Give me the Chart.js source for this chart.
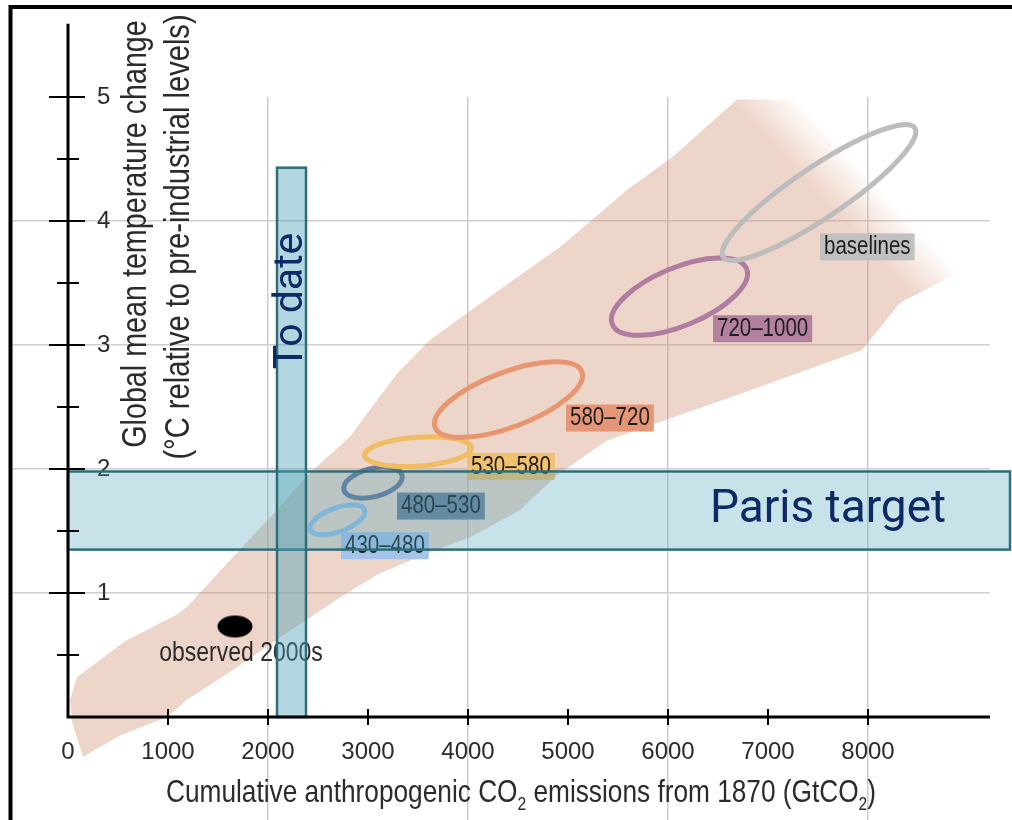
<!DOCTYPE html>
<html>
<head>
<meta charset="utf-8">
<script src="https://cdn.jsdelivr.net/npm/chart.js@4.4.1/dist/chart.umd.min.js"></script>
<style>
  html, body { margin: 0; padding: 0; background: #ffffff; }
  canvas { display: block; }
</style>
</head>
<body>
<canvas id="chart" width="1012" height="820"></canvas>
<script>
// ---------- data ----------
// axis ticks
const xTickValues = [0, 1000, 2000, 3000, 4000, 5000, 6000, 7000, 8000];
const yTickMarks  = [0.5, 1, 1.5, 2, 2.5, 3, 3.5, 4, 4.5, 5];
const yTickValues = [1, 2, 3, 4, 5];
const xGridValues = [2000, 4000, 6000, 8000];
const yGridValues = [1, 2, 3, 4];

// outline of the model plume: upper edge (left to right), then lower edge back
const plumeEmissions = [90, 570, 1100, 1190, 1650, 2090, 2420, 2820, 3020, 3290, 3620, 4270, 4920, 5590, 6050, 6690, 9320,
                        9320, 8950, 8320, 7940, 6670, 5390, 4890, 4520, 4020, 3620, 3120, 2790, 2190, 1650, 1190, 990, 520, 150, 40, 20];
const plumeWarming   = [0.32, 0.61, 0.83, 0.89, 1.29, 1.67, 1.97, 2.26, 2.48, 2.77, 3.04, 3.42, 3.79, 4.25, 4.52, 4.98, 4.98,
                        3.75, 3.60, 3.34, 2.96, 2.59, 2.23, 1.95, 1.67, 1.45, 1.33, 1.16, 1.00, 0.68, 0.38, 0.14, 0.00, -0.15, -0.32, -0.04, 0.14];

// scenario categories (ppm CO2-eq in 2100)
const scenarioNames    = ['430–480', '480–530', '530–580', '580–720', '720–1000', 'baselines'];
const scenarioEmission = [2695, 3050, 3500, 4405, 6115, 7510];        // centre, GtCO2
const scenarioWarming  = [1.59, 1.89, 2.14, 2.56, 3.39, 4.23];        // centre, °C
const scenarioEmissionSpread = [272, 291, 534, 734, 671, 958];        // half range along main axis
const scenarioWarmingSpread  = [0.081, 0.059, 0.030, 0.224, 0.225, 0.521];
const scenarioWidthRatio     = [0.41, 0.47, 0.27, 0.35, 0.40, 0.22];  // minor / major axis

// observed 2000s
const observedEmission = [1670];
const observedWarming  = [0.73];

// highlighted ranges
const parisWarming   = [1.35, 1.98];
const parisEmission  = [0, 9420];
const toDateEmission = [2090, 2380];
const toDateWarming  = [0, 4.43];

// ---------- styles ----------
const SANS = "'Liberation Sans', Arial, sans-serif";
const NARROW_FACTOR = 0.82;
const ROBOTO = "Roboto, 'Open Sans', sans-serif";
const GRID = 'rgb(206,206,206)';
const TEXT = '#2b2b2b';
const scenarioStroke = ['#98c0e8', '#6b7799', '#f0bd62', '#e8966f', '#b07da0', '#bdbdbd'];
const scenarioFill   = ['#a5c3eb', '#6e829c', '#f2c16e', '#e49676', '#b3819f', '#c0c0c0'];
// label boxes: top-left corner in data units
const labelAnchorX = [2730, 3290, 3990, 4980, 6450, 7520];
const labelAnchorY = [1.49, 1.81, 2.13, 2.52, 3.24, 3.90];
// plume fade toward the high-emission end (data units)
const fadeStart = [7635, 4.11];
const fadeEnd   = [7995, 4.38];

// black dot for the observed marker
const dotImage = document.createElement('canvas');
dotImage.width = 36; dotImage.height = 24;
(function () {
  const d = dotImage.getContext('2d');
  d.fillStyle = '#000';
  d.beginPath();
  d.ellipse(18, 12, 17.5, 11, 0, 0, Math.PI * 2);
  d.fill();
})();

function px(chart, x) { return chart.scales.x.getPixelForValue(x); }
function py(chart, y) { return chart.scales.y.getPixelForValue(y); }

// condensed text: regular face squeezed horizontally
function narrowWidth(ctx, text, size) {
  ctx.font = size + 'px ' + SANS;
  return ctx.measureText(text).width * NARROW_FACTOR;
}
function narrowText(ctx, text, x, y, size, align, angle) {
  ctx.save();
  ctx.font = size + 'px ' + SANS;
  ctx.translate(x, y);
  if (angle) ctx.rotate(angle);
  ctx.scale(NARROW_FACTOR, 1);
  ctx.textAlign = align;
  ctx.fillText(text, 0, 0);
  ctx.restore();
}

function drawPlume(chart) {
  const ctx = chart.ctx;
  ctx.save();
  ctx.beginPath();
  plumeEmissions.forEach((v, i) => {
    const X = px(chart, v), Y = py(chart, plumeWarming[i]);
    if (i === 0) ctx.moveTo(X, Y); else ctx.lineTo(X, Y);
  });
  ctx.closePath();
  const g = ctx.createLinearGradient(px(chart, fadeStart[0]), py(chart, fadeStart[1]),
                                     px(chart, fadeEnd[0]), py(chart, fadeEnd[1]));
  g.addColorStop(0, 'rgba(214,150,120,0.40)');
  g.addColorStop(1, 'rgba(214,150,120,0)');
  ctx.fillStyle = g;
  ctx.fill();
  ctx.restore();
}

function drawScenarios(chart) {
  const ctx = chart.ctx;
  ctx.save();
  scenarioNames.forEach((name, i) => {
    const cx = px(chart, scenarioEmission[i]), cy = py(chart, scenarioWarming[i]);
    const ex = px(chart, scenarioEmission[i] + scenarioEmissionSpread[i]) - cx;
    const ey = py(chart, scenarioWarming[i] + scenarioWarmingSpread[i]) - cy;
    const a = Math.hypot(ex, ey);
    const b = a * scenarioWidthRatio[i];
    ctx.beginPath();
    ctx.ellipse(cx, cy, a, b, Math.atan2(ey, ex), 0, Math.PI * 2);
    ctx.strokeStyle = scenarioStroke[i];
    ctx.lineWidth = 5;
    ctx.stroke();
  });
  ctx.textBaseline = 'middle';
  scenarioNames.forEach((name, i) => {
    const X = px(chart, labelAnchorX[i]), Y = py(chart, labelAnchorY[i]);
    const w = narrowWidth(ctx, name, 25) + 8;
    ctx.fillStyle = scenarioFill[i];
    ctx.fillRect(X, Y, w, 27);
    ctx.fillStyle = '#1e1e1e';
    narrowText(ctx, name, X + 4, Y + 14, 25, 'left');
  });
  // observed label
  ctx.textBaseline = 'alphabetic';
  ctx.fillStyle = TEXT;
  narrowText(ctx, 'observed 2000s', px(chart, observedEmission[0]) + 6, py(chart, observedWarming[0]) + 35, 28, 'center');
  ctx.restore();
}

function drawRanges(chart) {
  const ctx = chart.ctx;
  ctx.save();
  const rect = (x0, x1, y0, y1, fill) => {
    const X0 = px(chart, x0), X1 = px(chart, x1), Y0 = py(chart, y1), Y1 = py(chart, y0);
    ctx.fillStyle = fill;
    ctx.fillRect(X0, Y0, X1 - X0, Y1 - Y0);
    ctx.strokeStyle = '#2e6e7a';
    ctx.lineWidth = 2.5;
    ctx.strokeRect(X0, Y0, X1 - X0, Y1 - Y0);
  };
  rect(parisEmission[0], parisEmission[1], parisWarming[0], parisWarming[1], 'rgba(75,160,180,0.31)');
  rect(toDateEmission[0], toDateEmission[1], toDateWarming[0], toDateWarming[1], 'rgba(75,160,180,0.42)');

  ctx.fillStyle = '#0d2a66';
  ctx.font = '46px ' + ROBOTO;
  ctx.textAlign = 'center';
  ctx.textBaseline = 'middle';
  ctx.fillText('Paris target', px(chart, 7600), py(chart, (parisWarming[0] + parisWarming[1]) / 2));

  ctx.save();
  ctx.translate(px(chart, (toDateEmission[0] + toDateEmission[1]) / 2), py(chart, 3.355));
  ctx.rotate(-Math.PI / 2);
  ctx.font = '41px ' + ROBOTO;
  ctx.fillText('To date', 0, 0);
  ctx.restore();
  ctx.restore();
}

function drawAxes(chart) {
  const ctx = chart.ctx;
  const x0 = px(chart, 0), y0 = py(chart, 0);
  ctx.save();
  ctx.strokeStyle = '#000';
  ctx.lineCap = 'butt';
  // axis lines
  ctx.lineWidth = 3;
  ctx.beginPath();
  ctx.moveTo(x0, py(chart, 5.59));
  ctx.lineTo(x0, y0 + 1.5);
  ctx.moveTo(x0 - 1.5, y0);
  ctx.lineTo(chart.chartArea.right, y0);
  ctx.stroke();
  // crossing tick marks
  ctx.lineWidth = 2;
  ctx.beginPath();
  yTickMarks.forEach(v => {
    const Y = py(chart, v);
    const major = Number.isInteger(v);
    ctx.moveTo(x0 - (major ? 19 : 11), Y);
    ctx.lineTo(x0 + (major ? 17 : 11), Y);
  });
  xTickValues.forEach(v => {
    if (v === 0) return;
    const X = px(chart, v);
    ctx.moveTo(X, y0 - 8);
    ctx.lineTo(X, y0 + 8);
  });
  ctx.stroke();
  ctx.restore();
}

function drawTitles(chart) {
  const ctx = chart.ctx;
  ctx.save();
  ctx.fillStyle = TEXT;
  ctx.textBaseline = 'alphabetic';
  // y title, two lines
  narrowText(ctx, 'Global mean temperature change', 146, 234, 35, 'center', -Math.PI / 2);
  narrowText(ctx, '(°C relative to pre-industrial levels)', 189, 237, 35.5, 'center', -Math.PI / 2);
  // x title with subscripts
  const parts = [['Cumulative anthropogenic CO', false], ['2', true], [' emissions from 1870 (GtCO', false], ['2', true], [')', false]];
  const big = 32, small = 19;
  let total = 0;
  parts.forEach(([s, sub]) => { total += narrowWidth(ctx, s, sub ? small : big); });
  let x = px(chart, 4530) - total / 2;
  const base = 802;
  parts.forEach(([s, sub]) => {
    const size = sub ? small : big;
    narrowText(ctx, s, x, sub ? base + 8 : base, size, 'left');
    x += narrowWidth(ctx, s, size);
  });
  ctx.restore();
}

function drawFrame(chart) {
  const ctx = chart.ctx;
  ctx.save();
  ctx.strokeStyle = '#000';
  ctx.lineWidth = 4;
  ctx.beginPath();
  ctx.moveTo(10.5, 820);
  ctx.lineTo(10.5, 7);
  ctx.lineTo(1012, 7);
  ctx.stroke();
  ctx.restore();
}

const figurePlugin = {
  id: 'figurePlugin',
  beforeDatasetsDraw(chart) { drawPlume(chart); },
  afterDatasetsDraw(chart) {
    drawScenarios(chart);
    drawRanges(chart);
    drawAxes(chart);
    drawTitles(chart);
    drawFrame(chart);
  }
};

new Chart(document.getElementById('chart'), {
  type: 'line',
  data: {
    datasets: [{
      label: 'observed 2000s',
      data: observedEmission.map((x, i) => ({ x, y: observedWarming[i] })),
      showLine: false,
      pointStyle: dotImage,
      pointRadius: 12,
      clip: false
    }]
  },
  options: {
    responsive: false,
    animation: false,
    events: [],
    layout: { padding: { left: 12, right: 22, top: 97, bottom: 0 } },
    plugins: { legend: { display: false }, tooltip: { enabled: false }, title: { display: false } },
    scales: {
      x: {
        type: 'linear',
        min: 0,
        max: 9220,
        afterBuildTicks: s => { s.ticks = xTickValues.map(v => ({ value: v })); },
        afterFit: s => { s.height = 103; },
        border: { display: false },
        grid: {
          color: c => (c.tick && xGridValues.includes(c.tick.value)) ? GRID : 'rgba(0,0,0,0)',
          lineWidth: 1.5,
          tickLength: 103
        },
        ticks: {
          autoSkip: false,
          maxRotation: 0,
          padding: -82,
          color: TEXT,
          font: { family: SANS, size: 24 },
          callback: v => String(v)
        }
      },
      y: {
        type: 'linear',
        min: 0,
        max: 5,
        afterBuildTicks: s => { s.ticks = [0].concat(yTickMarks).map(v => ({ value: v })); },
        afterFit: s => { s.width = 56; },
        border: { display: false },
        grid: {
          color: c => (c.tick && yGridValues.includes(c.tick.value)) ? GRID : 'rgba(0,0,0,0)',
          lineWidth: 1.5,
          tickLength: 56
        },
        ticks: {
          autoSkip: false,
          mirror: true,
          padding: 29,
          color: TEXT,
          font: { family: SANS, size: 24 },
          callback: v => yTickValues.includes(v) ? String(v) : ''
        }
      }
    }
  },
  plugins: [figurePlugin]
});
</script>
</body>
</html>
